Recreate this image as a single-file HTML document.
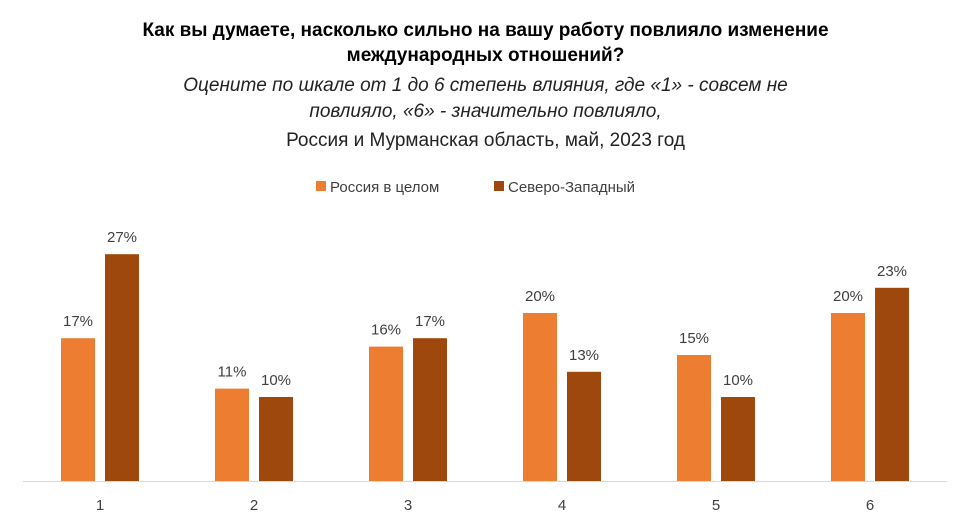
<!DOCTYPE html>
<html><head><meta charset="utf-8"><style>
body{margin:0;background:#fff;font-family:"Liberation Sans",sans-serif;}
#c{position:relative;width:971px;height:529px;overflow:hidden;}
.t{position:absolute;left:0;width:971px;text-align:center;color:#000;}
</style></head><body>
<div id="c">
<div class="t" style="top:18px;font-size:19px;font-weight:bold;line-height:25px;">Как вы думаете, насколько сильно на вашу работу повлияло изменение<br>международных отношений?</div>
<div class="t" style="top:73px;font-size:19px;font-style:italic;line-height:26px;color:#222;">Оцените по шкале от 1 до 6 степень влияния, где «1» - совсем не<br>повлияло, «6» - значительно повлияло,</div>
<div class="t" style="top:128px;font-size:19px;line-height:26px;color:#222;">Россия и Мурманская область, май, 2023 год</div>
<svg id="s" width="971" height="529" style="position:absolute;left:0;top:0"></svg>
</div>
<script>
const categories=["1","2","3","4","5","6"];
const russia=[17,11,16,20,15,20];
const northwest=[27,10,17,13,10,23];
const seriesNames=["Россия в целом","Северо-Западный"];
const colors=["#ED7D31","#9E480E"];
const NS="http://www.w3.org/2000/svg";
const svg=document.getElementById('s');
const base=481, scale=8.4, x0=100, step=154, bw=34;
const xc=i=>x0+i*step;
const y=v=>base-v*scale;
function el(t,a){const e=document.createElementNS(NS,t);for(const k in a)e.setAttribute(k,a[k]);svg.appendChild(e);return e;}
const ax=el('line',{x1:23,x2:947,y1:base+0.5,y2:base+0.5,stroke:'#d9d9d9','stroke-width':1});


[russia,northwest].forEach((ser,si)=>{
 ser.forEach((v,i)=>{
  const x=si===0?xc(i)-39:xc(i)+5;
  const r=el('rect',{x:x,y:y(v),width:bw,height:v*scale,fill:colors[si]});
  
  
  const t=el('text',{x:x+bw/2,y:y(v)-12,'text-anchor':'middle','font-size':15,fill:'#404040','font-family':'Liberation Sans'});
  t.textContent=v+'%';
  
  
 });
});
categories.forEach((c,i)=>{
 const t=el('text',{x:xc(i),y:510,'text-anchor':'middle','font-size':15,fill:'#404040','font-family':'Liberation Sans'});
 t.textContent=c;
 
 
});
const lx=[316,494];
seriesNames.forEach((n,i)=>{
 const r=el('rect',{x:lx[i],y:181,width:10,height:10,fill:colors[i]});
 
 
 const t=el('text',{x:lx[i]+14,y:192,'font-size':15,fill:'#404040','font-family':'Liberation Sans'});
 t.textContent=n;
 
 
});
</script>
</body></html>
